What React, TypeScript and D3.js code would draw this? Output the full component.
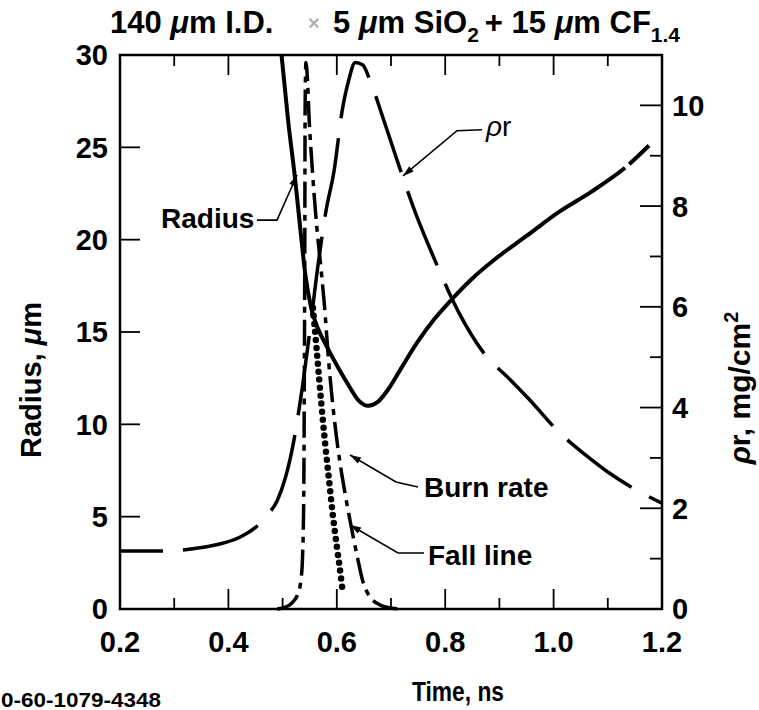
import React from 'react';
import * as d3 from 'd3';

// Implosion history: shell radius, areal density, burn rate and fall line
const radiusData: [number, number][] = [
  [0.498, 30.0], [0.510, 26.5], [0.523, 23.3], [0.533, 20.5], [0.542, 18.1],
  [0.552, 16.4], [0.565, 15.2], [0.580, 14.3], [0.600, 13.2], [0.620, 12.2],
  [0.640, 11.3], [0.658, 11.0], [0.675, 11.2], [0.695, 11.9], [0.720, 13.1],
  [0.750, 14.5], [0.780, 15.7], [0.810, 16.7], [0.850, 17.9], [0.890, 18.9],
  [0.950, 20.2], [1.010, 21.5], [1.070, 22.6], [1.140, 24.1], [1.176, 25.1],
];

const rhoRData: [number, number][] = [
  [0.20, 1.15], [0.29, 1.15], [0.33, 1.19], [0.38, 1.28], [0.42, 1.42],
  [0.45, 1.62], [0.475, 1.9], [0.49, 2.15], [0.505, 2.6], [0.52, 3.3],
  [0.535, 4.3], [0.55, 5.5], [0.565, 6.8], [0.58, 7.9], [0.595, 8.7],
  [0.61, 9.9], [0.622, 10.5], [0.634, 10.85], [0.648, 10.8], [0.661, 10.5],
  [0.685, 9.76], [0.71, 8.95], [0.746, 7.84], [0.78, 6.95], [0.825, 5.89],
  [0.87, 5.1], [0.92, 4.55], [0.956, 4.15], [1.012, 3.49], [1.06, 3.05],
  [1.10, 2.72], [1.15, 2.38], [1.2, 2.10],
];

// Burn rate in arbitrary units, drawn against the radius scale
const burnRateData: [number, number][] = [
  [0.490, 0.0], [0.505, 0.1], [0.518, 0.35], [0.528, 0.8], [0.534, 1.6],
  [0.537, 3.0], [0.539, 6.0], [0.540, 12.0], [0.541, 20.0], [0.5415, 27.0],
  [0.543, 29.6], [0.546, 28.6], [0.549, 26.5], [0.553, 24.6], [0.558, 22.5],
  [0.564, 20.4], [0.571, 18.4], [0.577, 16.5], [0.585, 13.4], [0.595, 10.4],
  [0.605, 8.1], [0.615, 6.3], [0.627, 4.4], [0.638, 2.8], [0.648, 1.5],
  [0.660, 0.7], [0.680, 0.22], [0.700, 0.05], [0.720, 0.0],
];

const fallLineData: [number, number][] = [
  [0.556, 16.3], [0.563, 14.0], [0.570, 11.6], [0.578, 9.1], [0.586, 6.9],
  [0.593, 5.0], [0.600, 3.4], [0.606, 2.1], [0.611, 0.9],
];

const timeTicks = [0.2, 0.3, 0.4, 0.5, 0.6, 0.7, 0.8, 0.9, 1.0, 1.1, 1.2];
const timeLabels = [0.2, 0.4, 0.6, 0.8, 1.0, 1.2];
const radiusTicks = [0, 5, 10, 15, 20, 25, 30];
const rhoRTicks = [0, 1, 2, 3, 4, 5, 6, 7, 8, 9, 10];
const rhoRLabels = [0, 2, 4, 6, 8, 10];

// Callouts: text anchor, leader path and arrow tip, in (time, radius-scale) units
const callouts = [
  { text: 'Radius', at: [0.2757, 20.63], path: [[0.4528, 21.06], [0.4897, 21.06], [0.5266, 23.5]] },
  { text: 'Burn rate', at: [0.7609, 6.06], path: [[0.7498, 6.61], [0.7092, 6.88], [0.6244, 8.34]] },
  { text: 'Fall line', at: [0.7683, 2.38], path: [[0.7609, 3.03], [0.7129, 3.03], [0.6244, 4.55]] },
  { text: 'ρr', at: [0.8753, 25.6], path: [[0.8679, 25.95], [0.8218, 25.9], [0.7221, 23.45]] },
];

const W = 759;
const H = 710;
const left = 120, right = 662, top = 55, bottom = 609;
const FONT = '"Liberation Sans", Arial, Helvetica, sans-serif';
const TICK_FONT = 29;

export default function App() {
  const x = d3.scaleLinear().domain([0.2, 1.2]).range([left, right]);
  const yL = d3.scaleLinear().domain([0, 30]).range([bottom, top]);
  const yR = d3.scaleLinear().domain([0, 11]).range([bottom, top]);

  const lineL = d3.line<[number, number]>().x(d => x(d[0])).y(d => yL(d[1])).curve(d3.curveMonotoneX);
  const lineR = d3.line<[number, number]>().x(d => x(d[0])).y(d => yR(d[1])).curve(d3.curveMonotoneX);
  const fallLine = d3.line<[number, number]>().x(d => x(d[0])).y(d => yL(d[1])).curve(d3.curveCatmullRom);

  const arrow = (p: number[][]) => {
    const pts = p.map(q => [x(q[0]), yL(q[1])]);
    const tip = pts[pts.length - 1];
    const prev = pts[pts.length - 2];
    const ang = Math.atan2(tip[1] - prev[1], tip[0] - prev[0]);
    const len = 11, wid = 3.5;
    const bx = tip[0] - len * Math.cos(ang), by = tip[1] - len * Math.sin(ang);
    const nx = -Math.sin(ang) * wid, ny = Math.cos(ang) * wid;
    return {
      line: d3.line()(pts as [number, number][]) as string,
      head: `M${tip[0]},${tip[1]}L${bx + nx},${by + ny}L${bx - nx},${by - ny}Z`,
    };
  };

  return (
    <svg width={W} height={H} viewBox={`0 0 ${W} ${H}`}
      style={{ position: 'absolute', left: 0, top: 0, background: '#fff' }}
      fontFamily={FONT} fontWeight="bold">
      <rect width={W} height={H} fill="#fff" />

      {/* title */}
      <text x={110} y={33} fontSize={31}>
        140 <tspan fontStyle="italic">μ</tspan>m I.D.
      </text>
      <text x={308} y={30} fontSize={20} fill="#b0b0b0">×</text>
      <text x={333} y={33} fontSize={31}>
        <tspan>5 </tspan><tspan fontStyle="italic">μ</tspan><tspan>m SiO</tspan>
        <tspan fontSize={21} dy={9}>2</tspan>
        <tspan dy={-9} dx={6}>+ 15 </tspan><tspan fontStyle="italic">μ</tspan><tspan>m CF</tspan>
        <tspan fontSize={21} dy={9}>1.4</tspan>
      </text>

      {/* frame */}
      <rect x={left} y={top} width={right - left} height={bottom - top} fill="none" stroke="#000" strokeWidth={2.5} />

      {/* time ticks, top and bottom */}
      {timeTicks.map((t, i) => {
        const l = i % 2 === 0 ? 20 : 11;
        return (
          <g key={`tt${i}`} stroke="#000" strokeWidth={1.8}>
            <line x1={x(t)} x2={x(t)} y1={bottom} y2={bottom - l} />
            <line x1={x(t)} x2={x(t)} y1={top} y2={top + l} />
          </g>
        );
      })}
      {timeLabels.map(t => (
        <text key={`tl${t}`} x={x(t)} y={652} fontSize={TICK_FONT} textAnchor="middle">{t.toFixed(1)}</text>
      ))}

      {/* radius axis */}
      {radiusTicks.map(r => (
        <g key={`rt${r}`}>
          <line x1={left} x2={left + 20} y1={yL(r)} y2={yL(r)} stroke="#000" strokeWidth={1.8} />
          <text x={108} y={yL(r)} dy="0.36em" fontSize={TICK_FONT} textAnchor="end">{r}</text>
        </g>
      ))}

      {/* areal density axis */}
      {rhoRTicks.map(p => (
        <line key={`pt${p}`} x1={right} x2={right - (p % 2 === 0 ? 22 : 12)} y1={yR(p)} y2={yR(p)} stroke="#000" strokeWidth={1.8} />
      ))}
      {rhoRLabels.map(p => (
        <text key={`pl${p}`} x={672} y={yR(p)} dy="0.36em" fontSize={TICK_FONT}>{p}</text>
      ))}

      {/* axis titles */}
      <text transform="translate(41,380) rotate(-90)" fontSize={29} textAnchor="middle">
        Radius, <tspan fontStyle="italic">μ</tspan>m
      </text>
      <text transform="translate(750,388) rotate(-90)" fontSize={30} textAnchor="middle">
        <tspan fontStyle="italic">ρ</tspan>r, mg/cm<tspan fontSize={20} dy={-12}>2</tspan>
      </text>
      <text x={458} y={701} fontSize={27} textAnchor="middle" textLength={92} lengthAdjust="spacingAndGlyphs">Time, ns</text>
      <text x={1} y={707} fontSize={21} textLength={160} lengthAdjust="spacingAndGlyphs">0-60-1079-4348</text>

      {/* curves */}
      <path d={lineR(rhoRData) as string} fill="none" stroke="#000" strokeWidth={3.5}
        strokeDasharray="80 20" strokeDashoffset={37} />
      <path d={lineL(burnRateData) as string} fill="none" stroke="#000" strokeWidth={3.5}
        strokeDasharray="26 7 6 7" />
      <path d={fallLine(fallLineData) as string} fill="none" stroke="#000" strokeWidth={6.5}
        strokeLinecap="round" strokeDasharray="0 8" />
      <path d={lineL(radiusData) as string} fill="none" stroke="#000" strokeWidth={4}
        pathLength={1000} strokeDasharray="957 7 36" />

      {/* callouts */}
      {callouts.map(c => {
        const a = arrow(c.path);
        return (
          <g key={c.text}>
            <path d={a.line} fill="none" stroke="#000" strokeWidth={1.6} />
            <path d={a.head} fill="#000" />
            {c.text === 'ρr' ? (
              <text x={x(c.at[0])} y={yL(c.at[1])} fontSize={28} fontWeight="normal">
                <tspan fontStyle="italic">ρ</tspan>r
              </text>
            ) : (
              <text x={x(c.at[0])} y={yL(c.at[1])} fontSize={28}>{c.text}</text>
            )}
          </g>
        );
      })}
    </svg>
  );
}
